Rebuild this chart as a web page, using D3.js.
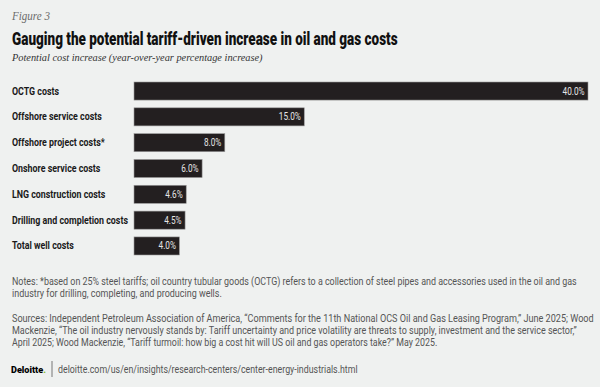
<!DOCTYPE html>
<html>
<head>
<meta charset="utf-8">
<script src="https://cdn.jsdelivr.net/npm/d3@7"></script>
<style>
  html, body { margin: 0; padding: 0; background: #eff1f0; }
  svg { display: block; }
</style>
</head>
<body>
<div id="chart"></div>
<script>
// chart data
var categories = ["OCTG costs", "Offshore service costs", "Offshore project costs*", "Onshore service costs",
                  "LNG construction costs", "Drilling and completion costs", "Total well costs"];
var values = [40.0, 15.0, 8.0, 6.0, 4.6, 4.5, 4.0];
var xDomain = [0, 40];

var figureLabel = "Figure 3";
var title = "Gauging the potential tariff-driven increase in oil and gas costs";
var subtitle = "Potential cost increase (year-over-year percentage increase)";
var notes = ["Notes: *based on 25% steel tariffs; oil country tubular goods (OCTG) refers to a collection of steel pipes and accessories used in the oil and gas",
             "industry for drilling, completing, and producing wells."];
var sources = ["Sources: Independent Petroleum Association of America, \u201cComments for the 11th National OCS Oil and Gas Leasing Program,\u201d June 2025; Wood",
               "Mackenzie, \u201cThe oil industry nervously stands by: Tariff uncertainty and price volatility are threats to supply, investment and the service sector,\u201d",
               "April 2025; Wood Mackenzie, \u201cTariff turmoil: how big a cost hit will US oil and gas operators take?\u201d May 2025."];
var url = "deloitte.com/us/en/insights/research-centers/center-energy-industrials.html";

var w = 600, h = 387;
var sans = "'Roboto', 'Liberation Sans', sans-serif";
var serif = "'Liberation Serif', 'DejaVu Serif', serif";

var svg = d3.select("#chart").append("svg")
  .attr("width", w)
  .attr("height", h);

svg.append("rect").attr("width", w).attr("height", h).attr("fill", "#eff1f0");

// squeeze a text horizontally so it starts (or ends) at x0 and is `width` wide
function squeeze(sel, x0, width) {
  sel.each(function() {
    var n = this.getComputedTextLength();
    d3.select(this).attr("x", 0)
      .attr("transform", "translate(" + x0 + ",0) scale(" + (width / n) + ",1)");
  });
}

// header
svg.append("text").attr("y", 20)
  .style("font-family", serif).style("font-style", "italic").style("font-size", "11.5px")
  .attr("fill", "#6b6b6b").text(figureLabel).call(squeeze, 12, 38);

svg.append("text").attr("y", 45)
  .style("font-family", sans).style("font-weight", 900).style("font-size", "17.5px")
  .attr("fill", "#111").text(title).call(squeeze, 12, 386);

svg.append("text").attr("y", 61)
  .style("font-family", serif).style("font-style", "italic").style("font-size", "10.5px")
  .attr("fill", "#333").text(subtitle).call(squeeze, 12, 251);

// scales
var x = d3.scaleLinear().domain(xDomain).range([134, 588]);
var y = d3.scaleBand().domain(categories).range([82, 255]).paddingInner(0.3).paddingOuter(0);

// category labels, all squeezed by the same ratio
var labels = svg.append("g").selectAll("text")
  .data(categories)
  .enter()
  .append("text")
  .attr("y", function(d) { return y(d) + y.bandwidth() / 2 + 3.5; })
  .style("font-family", sans).style("font-weight", "bold").style("font-size", "10px")
  .attr("fill", "#1a1a1a")
  .text(function(d) { return d; });
var longest = 0;
labels.each(function() { longest = Math.max(longest, this.getComputedTextLength()); });
var kLab = 116 / longest;
labels.each(function() { d3.select(this).call(squeeze, 12, this.getComputedTextLength() * kLab); });

// bars
svg.append("g").selectAll("rect")
  .data(values)
  .enter()
  .append("rect")
  .attr("x", x(0))
  .attr("y", function(d, i) { return y(categories[i]); })
  .attr("width", function(d) { return x(d) - x(0); })
  .attr("height", y.bandwidth())
  .attr("fill", "#231f20")
  .attr("stroke", "#9a9a9a")
  .attr("stroke-width", 0.6);

// value labels
var vals = svg.append("g").selectAll("text")
  .data(values)
  .enter()
  .append("text")
  .attr("y", function(d, i) { return y(categories[i]) + y.bandwidth() / 2 + 3.5; })
  .attr("text-anchor", "end")
  .style("font-family", sans).style("font-size", "10px")
  .attr("fill", "#e6e6e6")
  .text(function(d) { return d.toFixed(1) + "%"; });
var kVal = 1;
vals.each(function(d) { if (d === 40) kVal = 22 / this.getComputedTextLength(); });
vals.each(function(d) { d3.select(this).call(squeeze, x(d) - 3.5, this.getComputedTextLength() * kVal); });

// notes and sources
var noteEnds = [577, 222];
var sourceEnds = [595, 577, 438];
var foot = svg.append("g")
  .style("font-family", sans).style("font-size", "10px").attr("fill", "#555");
notes.forEach(function(t, i) {
  foot.append("text").attr("y", 285 + i * 12).text(t).call(squeeze, 12, noteEnds[i] - 12);
});
sources.forEach(function(t, i) {
  foot.append("text").attr("y", 322 + i * 12).text(t).call(squeeze, 12, sourceEnds[i] - 12);
});

// footer logo and link
var logo = svg.append("text").attr("y", 373)
  .style("font-family", sans).style("font-weight", 900).style("font-size", "9.5px")
  .attr("fill", "#000");
logo.append("tspan").text("Deloitte");
logo.append("tspan").attr("fill", "#86bc25").text(".");
logo.call(squeeze, 11, 35);

svg.append("line").attr("x1", 52).attr("x2", 52).attr("y1", 361).attr("y2", 377)
  .attr("stroke", "#777").attr("stroke-width", 1);

svg.append("text").attr("y", 373)
  .style("font-family", sans).style("font-size", "10.5px").attr("fill", "#555")
  .text(url).call(squeeze, 58, 300);
</script>
</body>
</html>
